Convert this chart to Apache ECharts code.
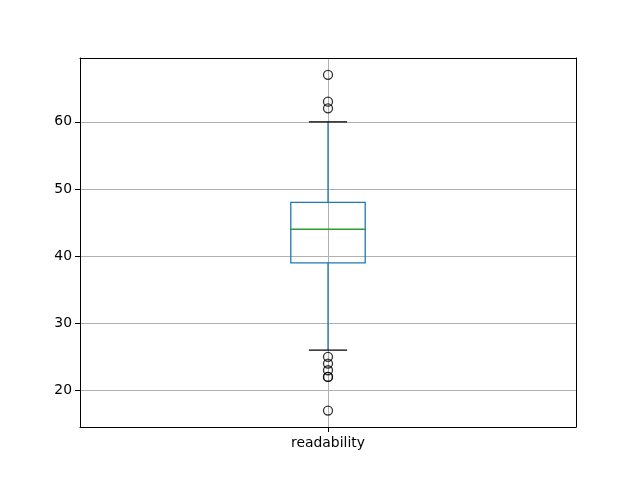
<!DOCTYPE html>
<html>
<head>
<meta charset="utf-8">
<script src="https://cdn.jsdelivr.net/npm/echarts@6/dist/echarts.min.js"></script>
<style>html,body{margin:0;padding:0;background:#fff}#c{width:640px;height:480px}</style>
</head>
<body>
<div id="c"></div>
<script>
const categories = ['readability'];
// [lowerWhisker, Q1, median, Q3, upperWhisker]
const boxStats = [[26, 39, 44, 48, 60]];
const outliers = [67, 63, 62, 25, 24, 23, 22, 22, 17];
const yTicks = [20, 30, 40, 50, 60];

const chart = echarts.init(document.getElementById('c'), null, {renderer: 'canvas'});
const font = 'DejaVu Sans';
const boxData = boxStats.map((s, i) => [i + 1].concat(s));
const outlierData = outliers.map(v => [1, v]);
const yMin = 14.55, yMax = 69.5;

chart.setOption({
  animation: false,
  backgroundColor: '#fff',
  grid: {left: 80, right: 64, top: 58, bottom: 53},
  xAxis: [{
    type: 'value', min: 0, max: 2, interval: 1,
    axisLine: {show: true, lineStyle: {color: '#000', width: 1}},
    axisTick: {show: true, customValues: [1], length: 5, lineStyle: {color: '#000'}},
    axisLabel: {customValues: [1], formatter: v => (v === 1 ? categories[0] : ''), color: '#000', fontFamily: font, fontSize: 13.9, margin: 9},
    splitLine: {show: true, lineStyle: {color: '#b0b0b0', width: 1}}
  }, {
    type: 'value', position: 'top', min: 0, max: 2,
    axisLine: {show: true, onZero: false, lineStyle: {color: '#000', width: 1}},
    axisTick: {show: false}, axisLabel: {show: false}, splitLine: {show: false}
  }],
  yAxis: [{
    type: 'value', min: yMin, max: yMax,
    axisLine: {show: true, onZero: false, lineStyle: {color: '#000', width: 1}},
    axisTick: {show: true, customValues: yTicks, length: 5, lineStyle: {color: '#000'}},
    axisLabel: {customValues: yTicks, color: '#000', fontFamily: font, fontSize: 13.9, margin: 8},
    splitLine: {show: true, lineStyle: {color: '#b0b0b0', width: 1}}
  }, {
    type: 'value', position: 'right', min: yMin, max: yMax,
    axisLine: {show: true, onZero: false, lineStyle: {color: '#000', width: 1}},
    axisTick: {show: false}, axisLabel: {show: false}, splitLine: {show: false}
  }],
  series: [{
    type: 'custom',
    xAxisIndex: 0, yAxisIndex: 0,
    data: boxData,
    encode: {x: 0, y: [1, 2, 3, 4, 5]},
    renderItem: function (params, api) {
      const x = api.value(0);
      const lo = api.value(1), q1 = api.value(2), med = api.value(3), q3 = api.value(4), hi = api.value(5);
      const hw = 0.15, cw = 0.077;
      const p = (xx, yy) => api.coord([xx, yy]);
      const blue = '#1f77b4';
      const tl = p(x - hw, q3), br = p(x + hw, q1);
      const line = (a, b, color) => ({type: 'line', shape: {x1: a[0], y1: a[1], x2: b[0], y2: b[1]}, style: {stroke: color, lineWidth: 1.3}});
      return {type: 'group', children: [
        line(p(x, q1), p(x, lo), blue),
        line(p(x, q3), p(x, hi), blue),
        line(p(x - cw, lo), p(x + cw, lo), '#000'),
        line(p(x - cw, hi), p(x + cw, hi), '#000'),
        {type: 'rect', shape: {x: tl[0], y: tl[1], width: br[0] - tl[0], height: br[1] - tl[1]}, style: {fill: 'none', stroke: blue, lineWidth: 1.3}},
        line(p(x - hw, med), p(x + hw, med), '#2ca02c')
      ]};
    }
  }, {
    type: 'scatter',
    xAxisIndex: 0, yAxisIndex: 0,
    data: outlierData,
    symbol: 'circle',
    symbolSize: 9,
    itemStyle: {color: 'rgba(255,255,255,0)', borderColor: '#000', borderWidth: 1.3}
  }]
});
</script>
</body>
</html>
